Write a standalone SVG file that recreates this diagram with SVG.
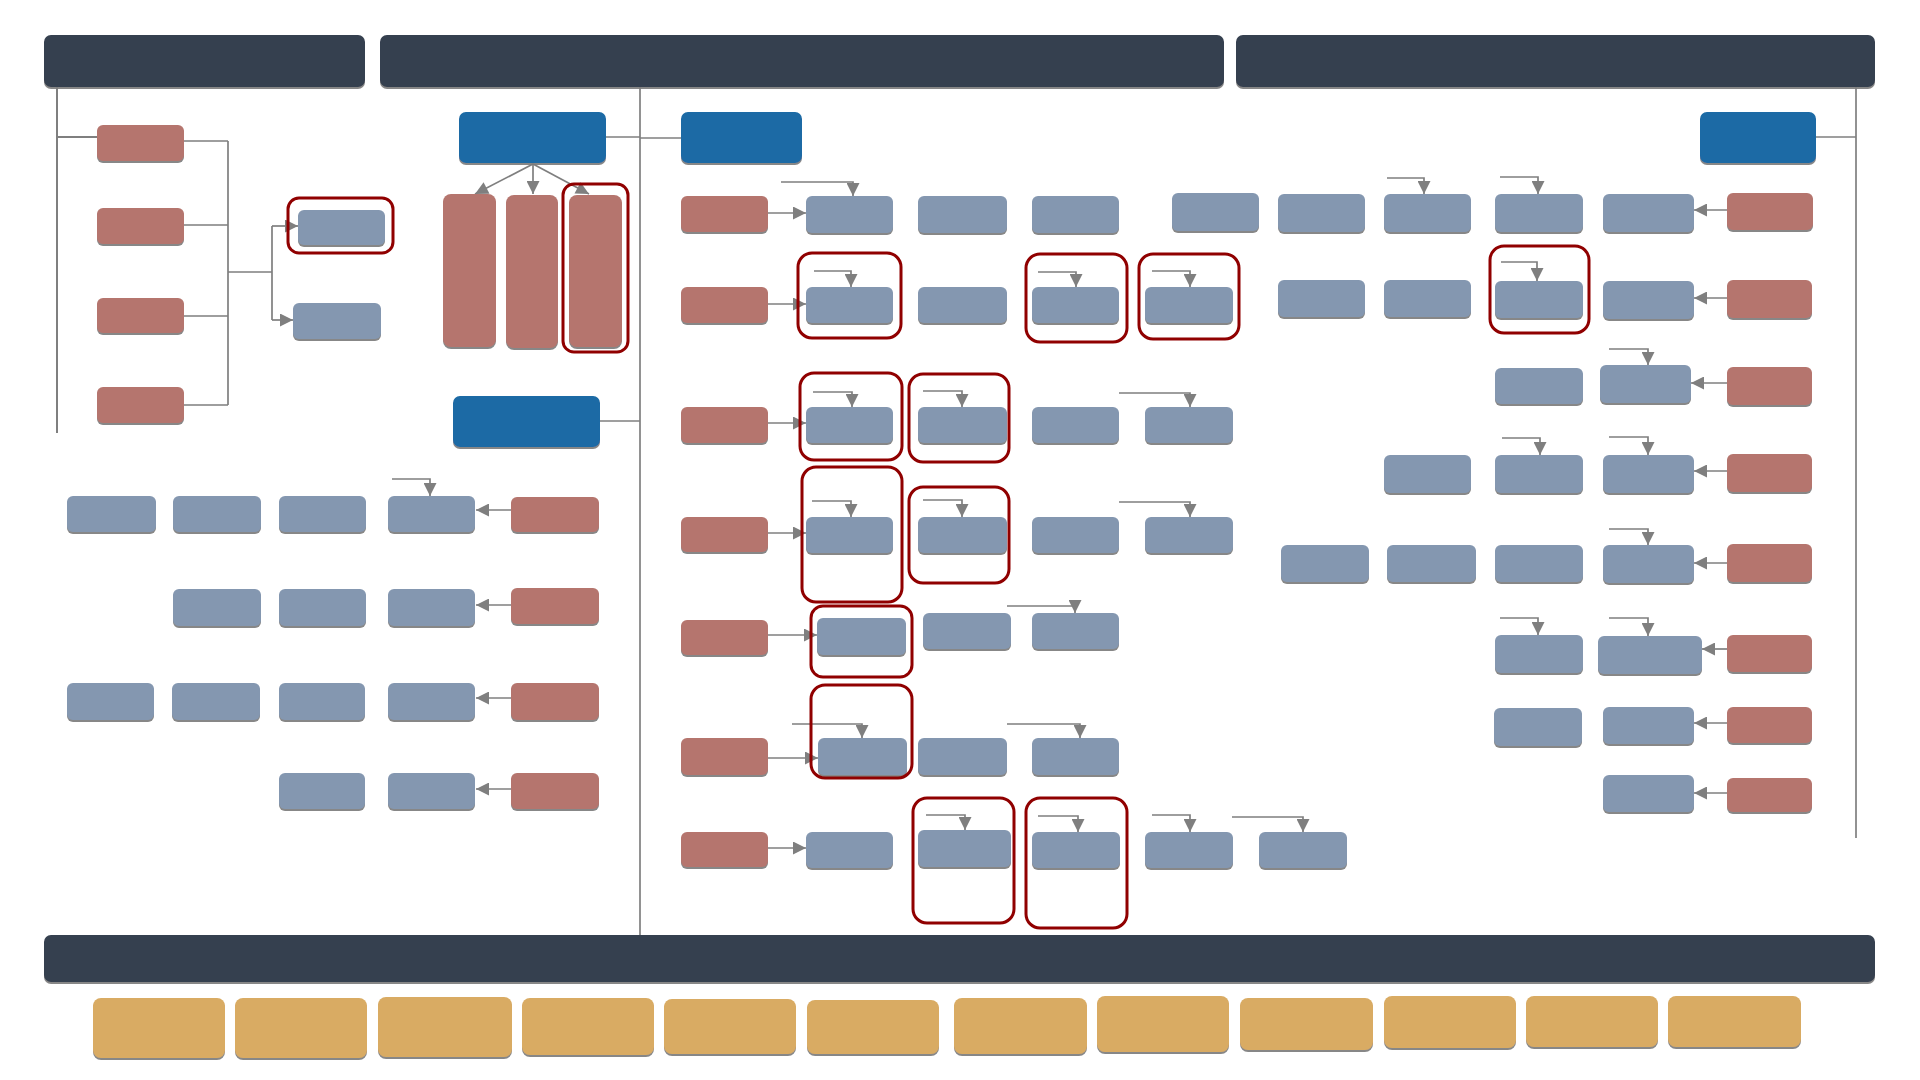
<svg xmlns="http://www.w3.org/2000/svg" width="1920" height="1080" viewBox="0 0 1920 1080">
<defs>
<filter id="sh" x="-5%" y="-5%" width="110%" height="130%"><feDropShadow dx="0" dy="2" stdDeviation="0.6" flood-color="#7a7a7a" flood-opacity="0.9"/></filter>
<marker id="ah" viewBox="0 0 10 10" refX="10" refY="5" markerWidth="14" markerHeight="13" markerUnits="userSpaceOnUse" orient="auto"><path d="M0,0 L10,5 L0,10 z" fill="#7f7f7f"/></marker>
</defs>
<style>
rect{filter:url(#sh)}
.h{fill:#343f4f}
.b{fill:#1b6aa5}
.r{fill:#b5756e}
.g{fill:#8497b0}
.y{fill:#d9ab63}
.o{fill:none;stroke:#900000;stroke-width:3;filter:none}
.c path{fill:none;stroke:#7f7f7f;stroke-width:1.7}
.c .a{marker-end:url(#ah)}
</style>
<rect width="1920" height="1080" fill="#ffffff" style="filter:none"/>

<!-- headers -->
<g id="header-1"><rect class="h" x="44" y="35" width="321" height="52" rx="7"/></g>
<g id="header-2"><rect class="h" x="380" y="35" width="844" height="52" rx="7"/></g>
<g id="header-3"><rect class="h" x="1236" y="35" width="639" height="52" rx="7"/></g>
<g id="footer-bar"><rect class="h" x="44" y="935" width="1831" height="47" rx="7"/></g>

<!-- connectors -->
<g id="connectors" class="c">
<path d="M57,87 V433" style="stroke-width:2"/>
<path d="M57,137 H97" style="stroke-width:2"/>
<path d="M184,141 H228 M184,225 H228 M184,316 H228 M184,405 H228 M228,141 V405 M228,272 H272 M272,226 V320"/>
<path class="a" d="M272,226 H298"/>
<path class="a" d="M272,320 H293"/>
<path d="M606,137 H640"/>
<path class="a" d="M533,164 L475,194"/>
<path class="a" d="M533,164 L533,194"/>
<path class="a" d="M533,164 L589,194"/>
<path d="M600,421 H640"/>
<path class="a" d="M511,510 H476"/>
<path class="a" d="M392,479 H430 V496"/>
<path class="a" d="M511,605 H476"/>
<path class="a" d="M511,698 H476"/>
<path class="a" d="M511,789 H476"/>
<path d="M640,87 V935"/>
<path d="M640,138 H681"/>
<path d="M1816,137 H1856"/>
<path d="M1856,87 V838"/>
<!-- middle rows -->
<path class="a" d="M768,213 H806"/>
<path class="a" d="M781,182 H853 V196"/>
<path class="a" d="M768,304 H806"/>
<path class="a" d="M814,271 H851 V287"/>
<path class="a" d="M1038,272 H1076 V287"/>
<path class="a" d="M1152,271 H1190 V287"/>
<path class="a" d="M768,423 H806"/>
<path class="a" d="M813,392 H852 V407"/>
<path class="a" d="M923,391 H962 V407"/>
<path class="a" d="M1119,393 H1190 V407"/>
<path class="a" d="M768,533 H806"/>
<path class="a" d="M812,501 H851 V517"/>
<path class="a" d="M923,500 H962 V517"/>
<path class="a" d="M1119,502 H1190 V517"/>
<path class="a" d="M768,635 H817"/>
<path class="a" d="M1007,606 H1075 V613"/>
<path class="a" d="M768,758 H818"/>
<path class="a" d="M792,724 H862 V738"/>
<path class="a" d="M1007,724 H1080 V738"/>
<path class="a" d="M768,848 H806"/>
<path class="a" d="M926,815 H965 V830"/>
<path class="a" d="M1038,816 H1078 V832"/>
<path class="a" d="M1152,815 H1190 V832"/>
<path class="a" d="M1232,817 H1303 V832"/>
<!-- right rows -->
<path class="a" d="M1727,210 H1694"/>
<path class="a" d="M1387,178 H1424 V194"/>
<path class="a" d="M1500,177 H1538 V194"/>
<path class="a" d="M1727,298 H1694"/>
<path class="a" d="M1501,262 H1537 V281"/>
<path class="a" d="M1727,383 H1691"/>
<path class="a" d="M1609,349 H1648 V365"/>
<path class="a" d="M1727,471 H1694"/>
<path class="a" d="M1502,438 H1540 V455"/>
<path class="a" d="M1609,437 H1648 V455"/>
<path class="a" d="M1727,563 H1694"/>
<path class="a" d="M1609,529 H1648 V545"/>
<path class="a" d="M1727,649 H1702"/>
<path class="a" d="M1500,618 H1538 V635"/>
<path class="a" d="M1609,618 H1648 V636"/>
<path class="a" d="M1727,723 H1694"/>
<path class="a" d="M1727,793 H1694"/>
</g>

<!-- left section -->
<g id="l-r1"><rect class="r" x="97" y="125" width="87" height="36" rx="6"/></g>
<g id="l-r2"><rect class="r" x="97" y="208" width="87" height="36" rx="6"/></g>
<g id="l-r3"><rect class="r" x="97" y="298" width="87" height="35" rx="6"/></g>
<g id="l-r4"><rect class="r" x="97" y="387" width="87" height="36" rx="6"/></g>
<g id="l-g1"><rect class="g" x="298" y="210" width="87" height="35" rx="6"/><rect class="o" x="288" y="198" width="105" height="55" rx="11"/></g>
<g id="l-g2"><rect class="g" x="293" y="303" width="88" height="36" rx="6"/></g>
<g id="l-blue1"><rect class="b" x="459" y="112" width="147" height="51" rx="7"/></g>
<g id="l-tall1"><rect class="r" x="443" y="194" width="53" height="153" rx="8"/></g>
<g id="l-tall2"><rect class="r" x="506" y="195" width="52" height="153" rx="8"/></g>
<g id="l-tall3"><rect class="r" x="569" y="195" width="53" height="152" rx="8"/><rect class="o" x="563" y="184" width="65" height="168" rx="11"/></g>
<g id="l-blue2"><rect class="b" x="453" y="396" width="147" height="51" rx="7"/></g>

<g id="la1"><rect class="g" x="67" y="496" width="89" height="36" rx="6"/></g>
<g id="la2"><rect class="g" x="173" y="496" width="88" height="36" rx="6"/></g>
<g id="la3"><rect class="g" x="279" y="496" width="87" height="36" rx="6"/></g>
<g id="la4"><rect class="g" x="388" y="496" width="87" height="36" rx="6"/></g>
<g id="la5"><rect class="r" x="511" y="497" width="88" height="35" rx="6"/></g>
<g id="lb2"><rect class="g" x="173" y="589" width="88" height="37" rx="6"/></g>
<g id="lb3"><rect class="g" x="279" y="589" width="87" height="37" rx="6"/></g>
<g id="lb4"><rect class="g" x="388" y="589" width="87" height="37" rx="6"/></g>
<g id="lb5"><rect class="r" x="511" y="588" width="88" height="36" rx="6"/></g>
<g id="lc1"><rect class="g" x="67" y="683" width="87" height="37" rx="6"/></g>
<g id="lc2"><rect class="g" x="172" y="683" width="88" height="37" rx="6"/></g>
<g id="lc3"><rect class="g" x="279" y="683" width="86" height="37" rx="6"/></g>
<g id="lc4"><rect class="g" x="388" y="683" width="87" height="37" rx="6"/></g>
<g id="lc5"><rect class="r" x="511" y="683" width="88" height="37" rx="6"/></g>
<g id="ld3"><rect class="g" x="279" y="773" width="86" height="36" rx="6"/></g>
<g id="ld4"><rect class="g" x="388" y="773" width="87" height="36" rx="6"/></g>
<g id="ld5"><rect class="r" x="511" y="773" width="88" height="36" rx="6"/></g>

<!-- middle section -->
<g id="m-blue"><rect class="b" x="681" y="112" width="121" height="51" rx="7"/></g>
<g id="m1r"><rect class="r" x="681" y="196" width="87" height="36" rx="6"/></g>
<g id="m1a"><rect class="g" x="806" y="196" width="87" height="37" rx="6"/></g>
<g id="m1b"><rect class="g" x="918" y="196" width="89" height="37" rx="6"/></g>
<g id="m1c"><rect class="g" x="1032" y="196" width="87" height="37" rx="6"/></g>
<g id="m1d"><rect class="g" x="1172" y="193" width="87" height="38" rx="6"/></g>

<g id="m2r"><rect class="r" x="681" y="287" width="87" height="36" rx="6"/></g>
<g id="m2a"><rect class="g" x="806" y="287" width="87" height="36" rx="6"/><rect class="o" x="798" y="253" width="103" height="85" rx="14"/></g>
<g id="m2b"><rect class="g" x="918" y="287" width="89" height="36" rx="6"/></g>
<g id="m2c"><rect class="g" x="1032" y="287" width="87" height="36" rx="6"/><rect class="o" x="1026" y="254" width="101" height="88" rx="14"/></g>
<g id="m2d"><rect class="g" x="1145" y="287" width="88" height="36" rx="6"/><rect class="o" x="1139" y="254" width="100" height="85" rx="14"/></g>

<g id="m3r"><rect class="r" x="681" y="407" width="87" height="36" rx="6"/></g>
<g id="m3a"><rect class="g" x="806" y="407" width="87" height="36" rx="6"/><rect class="o" x="800" y="373" width="102" height="87" rx="14"/></g>
<g id="m3b"><rect class="g" x="918" y="407" width="89" height="36" rx="6"/><rect class="o" x="909" y="374" width="100" height="88" rx="14"/></g>
<g id="m3c"><rect class="g" x="1032" y="407" width="87" height="36" rx="6"/></g>
<g id="m3d"><rect class="g" x="1145" y="407" width="88" height="36" rx="6"/></g>

<g id="m4r"><rect class="r" x="681" y="517" width="87" height="35" rx="6"/></g>
<g id="m4a"><rect class="g" x="806" y="517" width="87" height="36" rx="6"/><rect class="o" x="802" y="467" width="100" height="135" rx="14"/></g>
<g id="m4b"><rect class="g" x="918" y="517" width="89" height="36" rx="6"/><rect class="o" x="909" y="487" width="100" height="96" rx="14"/></g>
<g id="m4c"><rect class="g" x="1032" y="517" width="87" height="36" rx="6"/></g>
<g id="m4d"><rect class="g" x="1145" y="517" width="88" height="36" rx="6"/></g>

<g id="m5r"><rect class="r" x="681" y="620" width="87" height="35" rx="6"/></g>
<g id="m5a"><rect class="g" x="817" y="618" width="89" height="37" rx="6"/><rect class="o" x="811" y="606" width="101" height="71" rx="12"/></g>
<g id="m5b"><rect class="g" x="923" y="613" width="88" height="36" rx="6"/></g>
<g id="m5c"><rect class="g" x="1032" y="613" width="87" height="36" rx="6"/></g>

<g id="m6r"><rect class="r" x="681" y="738" width="87" height="37" rx="6"/></g>
<g id="m6a"><rect class="g" x="818" y="738" width="89" height="37" rx="6"/><rect class="o" x="811" y="685" width="101" height="93" rx="14"/></g>
<g id="m6b"><rect class="g" x="918" y="738" width="89" height="37" rx="6"/></g>
<g id="m6c"><rect class="g" x="1032" y="738" width="87" height="37" rx="6"/></g>

<g id="m7r"><rect class="r" x="681" y="832" width="87" height="35" rx="6"/></g>
<g id="m7a"><rect class="g" x="806" y="832" width="87" height="36" rx="6"/></g>
<g id="m7b"><rect class="g" x="918" y="830" width="93" height="37" rx="6"/><rect class="o" x="913" y="798" width="101" height="125" rx="14"/></g>
<g id="m7c"><rect class="g" x="1032" y="832" width="88" height="36" rx="6"/><rect class="o" x="1026" y="798" width="101" height="130" rx="14"/></g>
<g id="m7d"><rect class="g" x="1145" y="832" width="88" height="36" rx="6"/></g>
<g id="m7e"><rect class="g" x="1259" y="832" width="88" height="36" rx="6"/></g>

<!-- right section -->
<g id="r-blue"><rect class="b" x="1700" y="112" width="116" height="51" rx="7"/></g>
<g id="r1a"><rect class="g" x="1278" y="194" width="87" height="38" rx="6"/></g>
<g id="r1b"><rect class="g" x="1384" y="194" width="87" height="38" rx="6"/></g>
<g id="r1c"><rect class="g" x="1495" y="194" width="88" height="38" rx="6"/></g>
<g id="r1d"><rect class="g" x="1603" y="194" width="91" height="38" rx="6"/></g>
<g id="r1r"><rect class="r" x="1727" y="193" width="86" height="37" rx="6"/></g>

<g id="r2a"><rect class="g" x="1278" y="280" width="87" height="37" rx="6"/></g>
<g id="r2b"><rect class="g" x="1384" y="280" width="87" height="37" rx="6"/></g>
<g id="r2c"><rect class="g" x="1495" y="281" width="88" height="37" rx="6"/><rect class="o" x="1490" y="246" width="99" height="87" rx="14"/></g>
<g id="r2d"><rect class="g" x="1603" y="281" width="91" height="38" rx="6"/></g>
<g id="r2r"><rect class="r" x="1727" y="280" width="85" height="38" rx="6"/></g>

<g id="r3c"><rect class="g" x="1495" y="368" width="88" height="36" rx="6"/></g>
<g id="r3d"><rect class="g" x="1600" y="365" width="91" height="38" rx="6"/></g>
<g id="r3r"><rect class="r" x="1727" y="367" width="85" height="38" rx="6"/></g>

<g id="r4b"><rect class="g" x="1384" y="455" width="87" height="38" rx="6"/></g>
<g id="r4c"><rect class="g" x="1495" y="455" width="88" height="38" rx="6"/></g>
<g id="r4d"><rect class="g" x="1603" y="455" width="91" height="38" rx="6"/></g>
<g id="r4r"><rect class="r" x="1727" y="454" width="85" height="38" rx="6"/></g>

<g id="r5a"><rect class="g" x="1281" y="545" width="88" height="37" rx="6"/></g>
<g id="r5b"><rect class="g" x="1387" y="545" width="89" height="37" rx="6"/></g>
<g id="r5c"><rect class="g" x="1495" y="545" width="88" height="37" rx="6"/></g>
<g id="r5d"><rect class="g" x="1603" y="545" width="91" height="38" rx="6"/></g>
<g id="r5r"><rect class="r" x="1727" y="544" width="85" height="38" rx="6"/></g>

<g id="r6c"><rect class="g" x="1495" y="635" width="88" height="38" rx="6"/></g>
<g id="r6d"><rect class="g" x="1598" y="636" width="104" height="38" rx="6"/></g>
<g id="r6r"><rect class="r" x="1727" y="635" width="85" height="37" rx="6"/></g>

<g id="r7c"><rect class="g" x="1494" y="708" width="88" height="38" rx="6"/></g>
<g id="r7d"><rect class="g" x="1603" y="707" width="91" height="37" rx="6"/></g>
<g id="r7r"><rect class="r" x="1727" y="707" width="85" height="36" rx="6"/></g>

<g id="r8d"><rect class="g" x="1603" y="775" width="91" height="37" rx="6"/></g>
<g id="r8r"><rect class="r" x="1727" y="778" width="85" height="34" rx="6"/></g>

<!-- footer boxes -->
<g id="f1"><rect class="y" x="93" y="998" width="132" height="60" rx="8"/></g>
<g id="f2"><rect class="y" x="235" y="998" width="132" height="60" rx="8"/></g>
<g id="f3"><rect class="y" x="378" y="997" width="134" height="60" rx="8"/></g>
<g id="f4"><rect class="y" x="522" y="998" width="132" height="57" rx="8"/></g>
<g id="f5"><rect class="y" x="664" y="999" width="132" height="55" rx="8"/></g>
<g id="f6"><rect class="y" x="807" y="1000" width="132" height="54" rx="8"/></g>
<g id="f7"><rect class="y" x="954" y="998" width="133" height="56" rx="8"/></g>
<g id="f8"><rect class="y" x="1097" y="996" width="132" height="56" rx="8"/></g>
<g id="f9"><rect class="y" x="1240" y="998" width="133" height="52" rx="8"/></g>
<g id="f10"><rect class="y" x="1384" y="996" width="132" height="52" rx="8"/></g>
<g id="f11"><rect class="y" x="1526" y="996" width="132" height="51" rx="8"/></g>
<g id="f12"><rect class="y" x="1668" y="996" width="133" height="51" rx="8"/></g>
</svg>
